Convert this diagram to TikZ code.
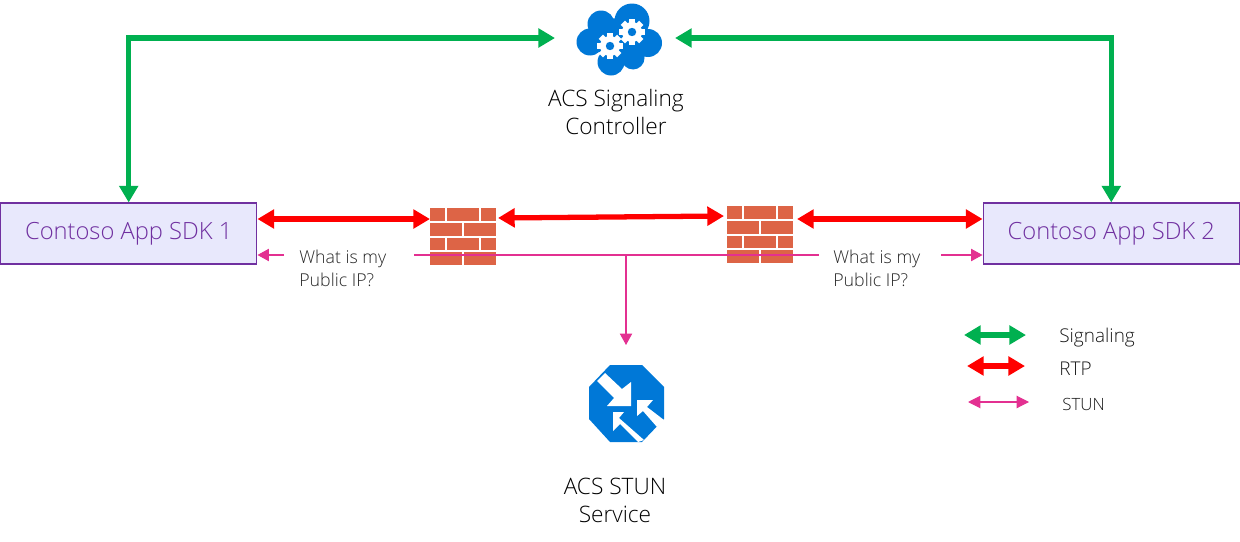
\documentclass[tikz,border=0pt]{standalone}
\usepackage{fontspec}
\setmainfont{Open Sans}[UprightFont=* Light]
\usetikzlibrary{arrows.meta}
\definecolor{sigGreen}{RGB}{0,176,80}
\definecolor{stunPink}{RGB}{227,48,145}
\definecolor{iconBlue}{RGB}{0,120,215}
\definecolor{brickRed}{RGB}{221,100,70}
\definecolor{sdkPurple}{RGB}{112,48,160}
\definecolor{sdkFill}{RGB}{232,232,252}
\tikzset{
  sdkbox/.style={draw=sdkPurple,fill=sdkFill,text=sdkPurple,line width=0.6pt,minimum width=256.5*0.02cm,
    minimum height=61*0.02cm,inner sep=0pt,font=\fontsize{13.5}{16}\selectfont},
  title/.style={align=center,text=black,font=\fontsize{12.9}{16}\selectfont},
  note/.style={align=left,anchor=north west,inner sep=0pt,text=black!85,font=\fontsize{10.1}{13}\selectfont},
  legend/.style={anchor=west,inner sep=0pt,text=black!90},
  signaling/.style={{Triangle[width=10.5pt,length=9.5pt]}-{Triangle[width=10.5pt,length=9.5pt]},sigGreen,line width=3pt},
  rtp/.style={{Triangle[width=10.5pt,length=9.5pt]}-{Triangle[width=10.5pt,length=9.5pt]},red,line width=3pt},
  stun/.style={stunPink,line width=0.6pt},
  stunarrow/.style={stun,-{Triangle[width=7pt,length=6.5pt]}},
  firewall/.pic={
    \foreach \y/\h in {0/13,30/12}{
      \fill[brickRed] (0,\y) rectangle (15,\y+\h);
      \fill[brickRed] (17,\y) rectangle (49,\y+\h);
      \fill[brickRed] (51,\y) rectangle (66,\y+\h);
    }
    \foreach \y/\h in {15/13,44/13}{
      \fill[brickRed] (0,\y) rectangle (32,\y+\h);
      \fill[brickRed] (34,\y) rectangle (66,\y+\h);
    }
  },
  gear/.pic={
    \foreach \a in {0,45,...,315}
      \fill[white,rotate=\a] (-3,-13) rectangle (3,0);
    \fill[white] (0,0) circle (10);
    \fill[iconBlue] (0,0) circle (4.2);
  }
}
\begin{document}
\begin{tikzpicture}[x=0.02cm,y=-0.02cm]
  \useasboundingbox (0,0) rectangle (1240,541);
  % boxes
  \node[sdkbox] (sdkone) at (128.7,233.5) {\raisebox{-2.2pt}{Contoso App SDK 1}};
  \node[sdkbox] (sdktwo) at (1111.3,233.5) {\raisebox{-2.2pt}{Contoso App SDK 2}};
  % cloud
  \fill[iconBlue] (601,24) circle (13.5) (632,21) circle (17.5) (590,42) circle (13.5)
    (648,43) circle (14) (611,62) circle (13.5) (633,58) circle (11.5) (618,40) circle (22);
  \pic at (610,46) {gear};
  \pic at (632,32) {gear};
  \node[title] (controller) at (616,112) {ACS Signaling\\Controller};
  \coordinate (cloudleft) at (555,38);
  \coordinate (cloudright) at (675,38);
  \coordinate (stunjoin) at (626,255);
  \coordinate (stuntop) at (626,345);
  % firewalls
  \pic at (430,208) {firewall};
  \pic at (727,206) {firewall};
  \coordinate (fwoneleft) at (430,219);
  \coordinate (fwoneright) at (498,218);
  \coordinate (fwtwoleft) at (724,216);
  \coordinate (fwtworight) at (797,219);
  \coordinate (stunmidleft) at (414,255);
  \coordinate (stunmidright) at (819,255);
  \coordinate (stubleft) at (284,255);
  \coordinate (stubright) at (941,255);
  % stun service icon
  \fill[iconBlue] (610,365)--(642,365)--(664,387)--(664,419)--(642,442)--(610,442)--(589,419)--(589,387)--cycle;
  \fill[white] (605,373)--(622,389)--(631,382)--(631,406)--(607,406)--(614,398)--(597,381)--cycle;
  \fill[white] (637,400)--(653,400)--(647,407)--(664,420)--(657,427)--(643,411)--(637,416)--cycle;
  \fill[white] (613,412)--(624,412)--(619,418)--(644,440)--(638,442)--(620,424)--(613,431)--cycle;
  \node[title] (service) at (615,500) {ACS STUN\\Service};
  % signaling and rtp
  \draw[signaling] (cloudleft)--(sdkone.north|-cloudleft)--(sdkone.north);
  \draw[signaling] (cloudright)--(sdktwo.north|-cloudright)--(sdktwo.north);
  \draw[rtp] (sdkone.east|-fwoneleft)--(fwoneleft);
  \draw[rtp] (fwoneright)--(fwtwoleft);
  \draw[rtp] (fwtworight)--(sdktwo.west|-fwtworight);
  % stun
  \draw[stun] (stunmidleft)--(stunmidright);
  \draw[stunarrow] (stunjoin)--(stuntop);
  \draw[stunarrow] (stubleft)--(sdkone.east|-stubleft);
  \draw[stunarrow] (stubright)--(sdktwo.west|-stubright);
  \node[note] (noteone) at (299,250) {What is my\\Public IP?};
  \node[note] (notetwo) at (833,250) {What is my\\Public IP?};
  % legend
  \coordinate (sigleft) at (964,335); \coordinate (sigright) at (1026,335);
  \coordinate (rtpleft) at (967,366); \coordinate (rtpright) at (1025,366);
  \coordinate (stunleft) at (968,402); \coordinate (stunright) at (1029,402);
  \draw[signaling] (sigleft)--(sigright);
  \draw[rtp] (rtpleft)--(rtpright);
  \draw[stun,{Triangle[width=7pt,length=7pt]}-{Triangle[width=7pt,length=7pt]}] (stunleft)--(stunright);
  \node[legend,font=\fontsize{10.8}{12}\selectfont] (legsig) at (1059,338) {Signaling};
  \node[legend,font=\fontsize{10.8}{12}\selectfont] (legrtp) at (1059,369) {RTP};
  \node[legend,font=\fontsize{9.6}{12}\selectfont] (legstun) at (1062,404) {STUN};
\end{tikzpicture}
\end{document}
